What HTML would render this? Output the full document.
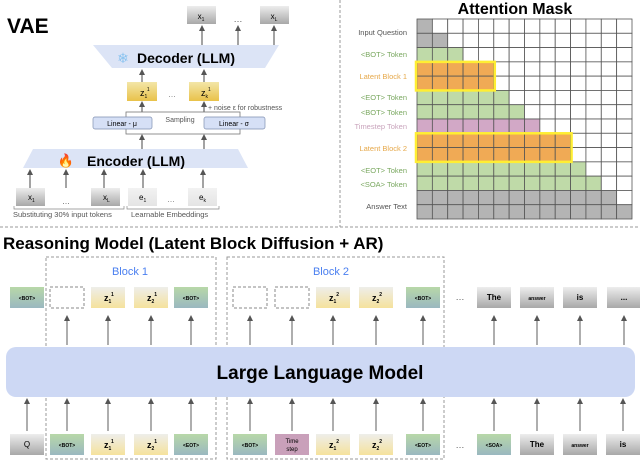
<!DOCTYPE html>
<html><head><meta charset="utf-8"><style>
html,body{margin:0;padding:0;background:#fff;}
svg{display:block;font-family:"Liberation Sans",sans-serif;}
</style></head><body>
<svg width="640" height="461" viewBox="0 0 640 461" xmlns="http://www.w3.org/2000/svg">
<defs>
<marker id="ah" markerWidth="6" markerHeight="6" refX="3" refY="3" orient="auto" markerUnits="userSpaceOnUse"><path d="M0,0 L6,3 L0,6 z" fill="#555"/></marker>
<linearGradient id="gz" x1="0" y1="0" x2="0" y2="1"><stop offset="0" stop-color="#eeeeea"/><stop offset="1" stop-color="#f5e29c"/></linearGradient>
<linearGradient id="gzv" x1="0" y1="0" x2="0" y2="1"><stop offset="0" stop-color="#f3e6a8"/><stop offset="1" stop-color="#e9c24a"/></linearGradient>
<linearGradient id="gb" x1="0" y1="0" x2="0" y2="1"><stop offset="0" stop-color="#b8d8a8"/><stop offset="1" stop-color="#9ab8c0"/></linearGradient>
<linearGradient id="gg" x1="0" y1="0" x2="0" y2="1"><stop offset="0" stop-color="#ededed"/><stop offset="1" stop-color="#a8a8a8"/></linearGradient>
<linearGradient id="ge" x1="0" y1="0" x2="0" y2="1"><stop offset="0" stop-color="#f2f2f2"/><stop offset="1" stop-color="#e4e4e4"/></linearGradient>
</defs>

<line x1="0" y1="227" x2="640" y2="227" stroke="#999" stroke-dasharray="3,2"/>
<line x1="340" y1="0" x2="340" y2="227" stroke="#999" stroke-dasharray="3,2"/>

<text x="7" y="33" font-size="21" font-weight="bold">VAE</text>
<rect x="187" y="6" width="29" height="18" fill="url(#gg)"/>
<text x="201" y="19" font-size="8" text-anchor="middle">x<tspan font-size="5" dy="2">1</tspan></text>
<text x="238" y="22" font-size="9" fill="#555" text-anchor="middle">…</text>
<rect x="260" y="6" width="29" height="18" fill="url(#gg)"/>
<text x="274" y="19" font-size="8" text-anchor="middle">x<tspan font-size="5" dy="2">L</tspan></text>
<g stroke="#666" stroke-width="1.2" marker-end="url(#ah)">
<line x1="202" y1="45" x2="202" y2="28"/><line x1="238" y1="45" x2="238" y2="28"/><line x1="274" y1="45" x2="274" y2="28"/>
<line x1="142" y1="82" x2="142" y2="72"/><line x1="204" y1="82" x2="204" y2="72"/>
<line x1="142" y1="112" x2="142" y2="104"/><line x1="204" y1="112" x2="204" y2="104"/>
<line x1="142" y1="149" x2="142" y2="137"/><line x1="204" y1="149" x2="204" y2="137"/>
<line x1="30" y1="188" x2="30" y2="172"/><line x1="66" y1="188" x2="66" y2="172"/><line x1="104" y1="188" x2="104" y2="172"/><line x1="143" y1="188" x2="143" y2="172"/><line x1="203" y1="188" x2="203" y2="172"/>
</g>
<polygon points="93,45 279,45 265,68 112,68" fill="#dce4f6"/>
<text x="123" y="63" font-size="14" fill="#8cc4f0" text-anchor="middle">❄</text>
<text x="186" y="63" font-size="14" font-weight="bold" text-anchor="middle">Decoder (LLM)</text>
<rect x="127" y="82" width="30" height="19" fill="url(#gzv)"/>
<text x="140" y="96" font-size="9">z<tspan font-size="5" dy="2">1</tspan><tspan font-size="5" dy="-7">1</tspan></text>
<text x="172" y="97" font-size="8" fill="#777" text-anchor="middle">…</text>
<rect x="189" y="82" width="30" height="19" fill="url(#gzv)"/>
<text x="201" y="96" font-size="9">z<tspan font-size="5" dy="2">k</tspan><tspan font-size="5" dy="-7">1</tspan></text>
<text x="208" y="110" font-size="7" fill="#555">+ noise ε for robustness</text>
<rect x="126" y="112" width="114" height="22" fill="none" stroke="#777" stroke-width="0.8"/>
<text x="180" y="122" font-size="7" fill="#555" text-anchor="middle">Sampling</text>
<rect x="93" y="117" width="59" height="12" rx="2" fill="#d6e0f6" stroke="#7f8fb0" stroke-width="0.7"/>
<text x="122" y="126" font-size="7" text-anchor="middle">Linear - μ</text>
<rect x="204" y="117" width="61" height="12" rx="2" fill="#d6e0f6" stroke="#7f8fb0" stroke-width="0.7"/>
<text x="234" y="126" font-size="7" text-anchor="middle">Linear - σ</text>
<polygon points="33,149 238,149 248,168 23,168" fill="#dce4f6"/>
<text x="66" y="165" font-size="13" text-anchor="middle" fill="#e8702a">🔥</text>
<text x="136" y="166" font-size="14" font-weight="bold" text-anchor="middle">Encoder (LLM)</text>
<rect x="16" y="188" width="29" height="18" fill="url(#gg)"/>
<text x="28" y="200" font-size="8">x<tspan font-size="5" dy="2">1</tspan></text>
<text x="66" y="204" font-size="8" fill="#555" text-anchor="middle">…</text>
<rect x="91" y="188" width="29" height="18" fill="url(#gg)"/>
<text x="103" y="200" font-size="8">x<tspan font-size="5" dy="2">L</tspan></text>
<rect x="128" y="188" width="29" height="18" fill="url(#ge)"/>
<text x="139" y="200" font-size="8">e<tspan font-size="5" dy="2">1</tspan></text>
<text x="171" y="202" font-size="8" fill="#777" text-anchor="middle">…</text>
<rect x="188" y="188" width="29" height="18" fill="url(#ge)"/>
<text x="199" y="200" font-size="8">e<tspan font-size="5" dy="2">k</tspan></text>
<path d="M14,206 v3 h110 v-3 M127,206 v3 h92 v-3" fill="none" stroke="#888" stroke-width="0.7"/>
<text x="13" y="217" font-size="7.5" fill="#555">Substituting 30% input tokens</text>
<text x="131" y="217" font-size="7.5" fill="#555">Learnable Embeddings</text>

<text x="515" y="14" font-size="16" font-weight="bold" text-anchor="middle">Attention Mask</text>
<g id="grid"></g>
<g font-size="7.5" text-anchor="end">
<text x="407" y="35" fill="#555">Input Question</text>
<text x="407" y="57" fill="#7aa860">&lt;BOT&gt; Token</text>
<text x="407" y="79" fill="#e6a84a">Latent Block 1</text>
<text x="407" y="100" fill="#7aa860">&lt;EOT&gt; Token</text>
<text x="407" y="115" fill="#7aa860">&lt;BOT&gt; Token</text>
<text x="407" y="129" fill="#c9a4bc">Timestep Token</text>
<text x="407" y="151" fill="#e6a84a">Latent Block 2</text>
<text x="407" y="173" fill="#7aa860">&lt;EOT&gt; Token</text>
<text x="407" y="187" fill="#7aa860">&lt;SOA&gt; Token</text>
<text x="407" y="209" fill="#555">Answer Text</text>
</g>

<text x="3" y="249" font-size="17" font-weight="bold">Reasoning Model (Latent Block Diffusion + AR)</text>
<rect x="46" y="257" width="170" height="202" fill="none" stroke="#999" stroke-dasharray="3,2"/>
<rect x="227" y="257" width="217" height="202" fill="none" stroke="#999" stroke-dasharray="3,2"/>
<text x="130" y="275" font-size="11" fill="#4a7ff0" text-anchor="middle">Block 1</text>
<text x="331" y="275" font-size="11" fill="#4a7ff0" text-anchor="middle">Block 2</text>

<rect x="6" y="347" width="629" height="50" rx="10" fill="#cdd8f4"/>
<text x="320" y="379" font-size="19" font-weight="bold" text-anchor="middle">Large Language Model</text>

<g id="tokens"></g>
</svg>
<script>
(function(){
var NS="http://www.w3.org/2000/svg";
function el(p,t,a,txt){var e=document.createElementNS(NS,t);for(var k in a)e.setAttribute(k,a[k]);if(txt!=null)e.textContent=txt;p.appendChild(e);return e;}
var g=document.getElementById("grid");
var x0=417,y0=19,cw=215/14,ch=200/14;
var rows=[["g",1],["g",2],["n",3],["o",5],["o",5],["n",6],["n",7],["p",8],["o",10],["o",10],["n",11],["n",12],["g",13],["g",14]];
var col={g:"#b4b4b4",n:"#bfdaa8",o:"#f0aa55",p:"#d2a8c6"};
for(var r=0;r<14;r++)for(var c=0;c<14;c++){
 var f=c<rows[r][1]?col[rows[r][0]]:"#fff";
 el(g,"rect",{x:x0+c*cw,y:y0+r*ch,width:cw,height:ch,fill:f,stroke:"#555","stroke-width":0.8});
}
el(g,"rect",{x:x0-1,y:y0+3*ch,width:5*cw+2,height:2*ch,fill:"none",stroke:"#ffee33","stroke-width":2.5});
el(g,"rect",{x:x0-1,y:y0+8*ch,width:10*cw+2,height:2*ch,fill:"none",stroke:"#ffee33","stroke-width":2.5});
var T=document.getElementById("tokens");
function tok(x,y,type,label,sub,sup){
 var fill={b:"url(#gb)",z:"url(#gz)",g:"url(#gg)",p:"#c9a0ba"}[type];
 if(type=="d"){el(T,"rect",{x:x,y:y,width:34,height:21,fill:"#fff",stroke:"#888","stroke-dasharray":"3,2"});return;}
 el(T,"rect",{x:x,y:y,width:34,height:21,fill:fill});
 if(type=="z"){var t=el(T,"text",{x:x+13,y:y+14,"font-size":9,"font-weight":"bold"},"z");
   el(t,"tspan",{"font-size":5,dy:2},sub);el(t,"tspan",{"font-size":5,dy:-7},sup);return;}
 if(type=="p"){el(T,"text",{x:x+17,y:y+9,"font-size":6,"text-anchor":"middle"},"Time");el(T,"text",{x:x+17,y:y+17,"font-size":6,"text-anchor":"middle"},"step");return;}
 var fs=label.length>3&&label[0]=="<"?5:(label=="answer"?5:8);
 el(T,"text",{x:x+17,y:y+13,"font-size":fs,"text-anchor":"middle","font-weight":label=="Q"?"normal":"bold"},label);
}
function arrow(x,y1,y2){el(T,"line",{x1:x,y1:y1,x2:x,y2:y2,stroke:"#777","stroke-width":1.2,"marker-end":"url(#ah)"});}
var top=[[10,"b","<BOT>"],[50,"d"],[91,"z","","1","1"],[134,"z","","2","1"],[174,"b","<BOT>"],[233,"d"],[275,"d"],[316,"z","","1","2"],[359,"z","","2","2"],[406,"b","<BOT>"],[477,"g","The"],[520,"g","answer"],[563,"g","is"],[607,"g","..."]];
top.forEach(function(t,i){tok(t[0],287,t[1],t[2],t[3],t[4]);if(i>0)arrow(t[0]+17,345,318);});
var bot=[[10,"g","Q"],[50,"b","<BOT>"],[91,"z","","1","1"],[134,"z","","2","1"],[174,"b","<EOT>"],[233,"b","<BOT>"],[275,"p"],[316,"z","","1","2"],[359,"z","","2","2"],[406,"b","<EOT>"],[477,"b","<SOA>"],[520,"g","The"],[563,"g","answer"],[606,"g","is"]];
bot.forEach(function(t){tok(t[0],434,t[1],t[2],t[3],t[4]);arrow(t[0]+17,431,401);});
el(T,"text",{x:460,y:300,"font-size":9,fill:"#555","text-anchor":"middle"},"…");
el(T,"text",{x:460,y:448,"font-size":9,fill:"#555","text-anchor":"middle"},"…");
})();
</script>
</body></html>
